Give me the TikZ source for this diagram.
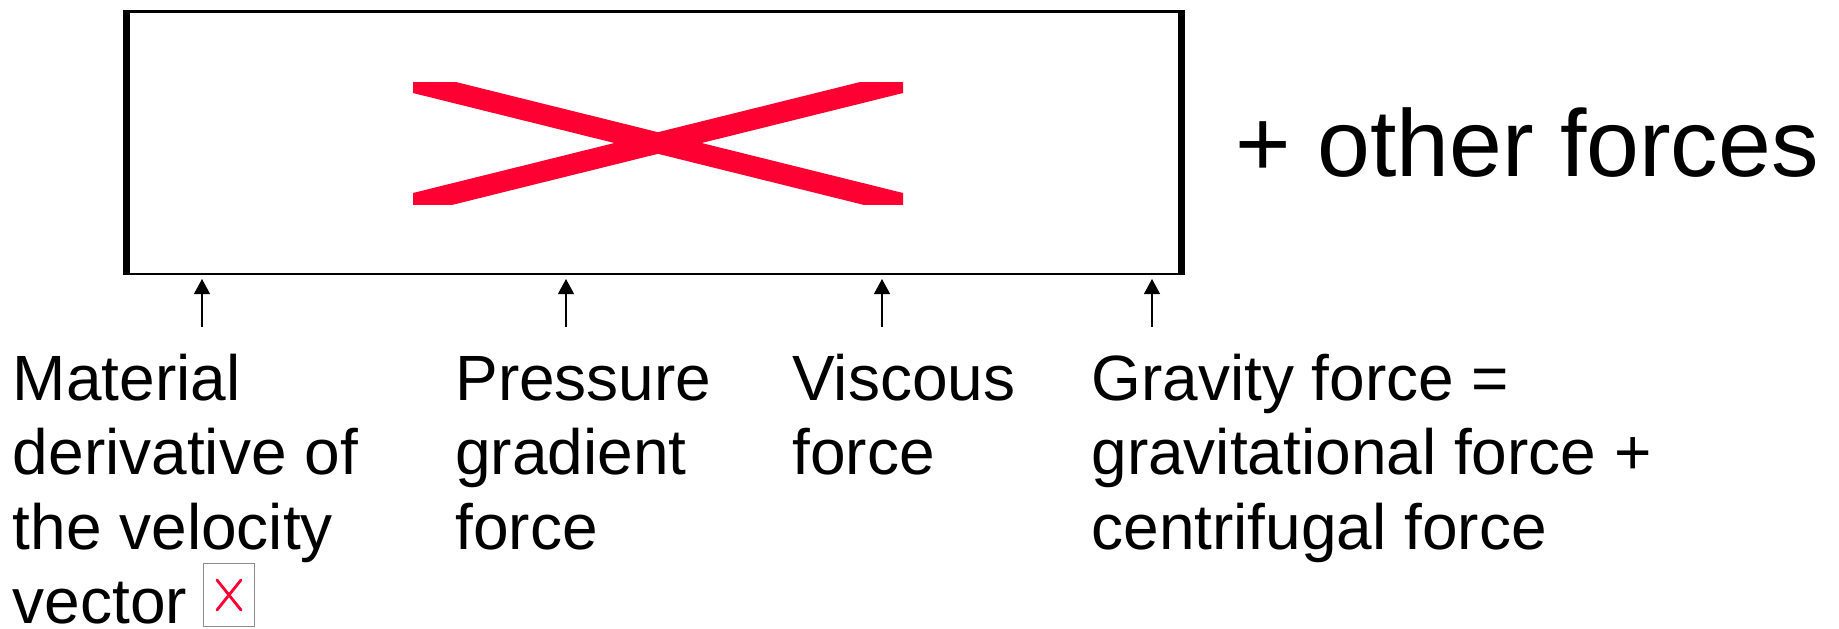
\documentclass[tikz,border=0pt]{standalone}
\usepackage{fontspec}
\setmainfont{Liberation Sans}
\usetikzlibrary{arrows.meta}
\definecolor{xred}{RGB}{255,0,51}
\begin{document}
\begin{tikzpicture}[x=0.5pt,y=-0.5pt,
  lbl/.style={anchor=base west, inner sep=0pt, align=left, font=\fontsize{32pt}{37.25pt}\selectfont},
  arr/.style={line width=0.6pt, -{Triangle[length=7.5pt,width=8pt]}, shorten >=2pt},
  redbar/.style={xred, line width=10.5pt},
]
\useasboundingbox (0,0) rectangle (1839,628);
% main frame
\node[draw, line width=1.25pt, minimum width=530pt, minimum height=131.25pt, inner sep=0pt] (box) at (654,142.5) {};
\fill (123,10) rectangle (130,275);
\fill (1178,10) rectangle (1185,275);
% red cross (missing image)
\begin{scope}
\clip (413,82) rectangle (903,204);
\draw[redbar] (384,75) -- (932,211);
\draw[redbar] (384,211) -- (932,75);
\end{scope}
% labels (anchored at the baseline of their last line)
\node[lbl] (mat) at (12.5,623.5) {Material\\derivative of\\the velocity\\vector};
\node[lbl] (pre) at (455,549) {Pressure\\gradient\\force};
\node[lbl] (vis) at (792,474.5) {Viscous\\force};
\node[lbl] (gra) at (1091,549) {Gravity force =\\gravitational force +\\centrifugal force};
\node[anchor=base west, inner sep=0pt, font=\fontsize{47.5pt}{55pt}\selectfont] (oth) at (1235,176) {+ other forces};
% small broken image box
\node[draw=gray!90, line width=0.5pt, minimum width=25.5pt, minimum height=31.5pt, inner sep=0pt] (img) at (229,595) {};
\draw[xred, line width=1.4pt, line cap=round]
  ([shift={(-12,-15)}]img.center) -- ([shift={(12,15)}]img.center)
  ([shift={(-12,15)}]img.center) -- ([shift={(12,-15)}]img.center);
% arrows
\coordinate (b1) at (202,327);
\coordinate (b2) at (566,327);
\coordinate (b3) at (882,327);
\coordinate (b4) at (1152,327);
\draw[arr] (b1) -- (b1 |- box.south);
\draw[arr] (b2) -- (b2 |- box.south);
\draw[arr] (b3) -- (b3 |- box.south);
\draw[arr] (b4) -- (b4 |- box.south);
\end{tikzpicture}
\end{document}
